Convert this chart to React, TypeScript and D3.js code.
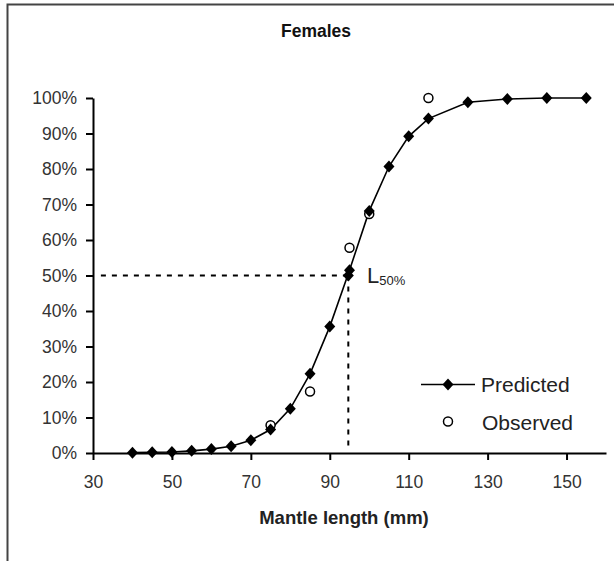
import React, { useEffect, useRef } from "react";
import * as d3 from "d3";

// mantle length classes (mm) and predicted maturity (%)
const lengths = [40, 45, 50, 55, 60, 65, 70, 75, 80, 85, 90, 95, 100, 105, 110, 115, 125, 135, 145, 155];
const predicted = [0.1, 0.2, 0.3, 0.6, 1.1, 1.9, 3.6, 6.6, 12.5, 22.3, 35.6, 51.5, 68.2, 80.7, 89.2, 94.2, 98.8, 99.7, 100, 100];

// observed proportions that are not hidden under predicted markers
const obsLengths = [75, 85, 95, 100, 115];
const observed = [7.8, 17.3, 57.8, 67.3, 100];

const l50 = 94.7;
const xTicks = [30, 50, 70, 90, 110, 130, 150];
const yTicks = [0, 10, 20, 30, 40, 50, 60, 70, 80, 90, 100];

const FONT = "Arial, 'Liberation Sans', sans-serif";
const diamond = "M0,-6L5.5,0L0,6L-5.5,0Z";

const App = () => {
  const ref = useRef<SVGSVGElement>(null);

  useEffect(() => {
    const width = 614;
    const height = 561;
    const svg = d3.select(ref.current);
    svg.selectAll("*").remove();
    svg.attr("width", width).attr("height", height).attr("viewBox", [0, 0, width, height]);

    const x = d3.scaleLinear([30, 160], [93, 606]);
    const y = d3.scaleLinear([0, 100], [453, 98]);

    // chart area border (runs off the right and bottom)
    svg
      .append("rect")
      .attr("x", 7.5)
      .attr("y", 4.5)
      .attr("width", 640)
      .attr("height", 600)
      .attr("fill", "#fff")
      .attr("stroke", "#444")
      .attr("stroke-width", 2);

    svg
      .append("text")
      .attr("x", 316)
      .attr("y", 37)
      .attr("text-anchor", "middle")
      .attr("font-family", FONT)
      .attr("font-size", 17.5)
      .attr("font-weight", "bold")
      .attr("fill", "#111")
      .text("Females");

    // y axis
    svg
      .append("g")
      .attr("transform", `translate(${x(30)},0)`)
      .call(
        d3
          .axisLeft(y)
          .tickValues(yTicks)
          .tickSize(7)
          .tickSizeOuter(0)
          .tickPadding(9)
          .tickFormat((d) => `${d}%`)
      )
      .call((g) => g.select(".domain").attr("stroke-width", 2))
      .call((g) => g.selectAll(".tick line").attr("stroke-width", 2))
      .call((g) =>
        g.selectAll(".tick text").attr("font-family", FONT).attr("font-size", 17.5).attr("fill", "#333")
      );

    // x axis
    svg
      .append("g")
      .attr("transform", `translate(0,${y(0)})`)
      .call(d3.axisBottom(x).tickValues(xTicks).tickSize(7).tickSizeOuter(0).tickPadding(16))
      .call((g) => g.select(".domain").attr("stroke-width", 2))
      .call((g) => g.selectAll(".tick line").attr("stroke-width", 2))
      .call((g) =>
        g.selectAll(".tick text").attr("font-family", FONT).attr("font-size", 17.5).attr("fill", "#333")
      );

    svg
      .append("text")
      .attr("x", 344)
      .attr("y", 524)
      .attr("text-anchor", "middle")
      .attr("font-family", FONT)
      .attr("font-size", 18.5)
      .attr("font-weight", "bold")
      .attr("fill", "#222")
      .text("Mantle length (mm)");

    // L50 guide lines
    svg
      .append("path")
      .attr("d", `M${x(32)},${y(50)}H${x(l50)}`)
      .attr("stroke", "#000")
      .attr("stroke-width", 2)
      .attr("stroke-dasharray", "5,6")
      .attr("fill", "none");
    svg
      .append("path")
      .attr("d", `M${x(l50)},${y(50)}V${y(2)}`)
      .attr("stroke", "#000")
      .attr("stroke-width", 2)
      .attr("stroke-dasharray", "5,6")
      .attr("fill", "none");

    const I = d3.range(lengths.length);
    const line = d3
      .line<number>()
      .x((i) => x(lengths[i]))
      .y((i) => y(predicted[i]));

    svg
      .append("path")
      .attr("d", line(I))
      .attr("fill", "none")
      .attr("stroke", "#000")
      .attr("stroke-width", 1.6);

    svg
      .append("g")
      .selectAll("circle")
      .data(d3.range(obsLengths.length))
      .join("circle")
      .attr("cx", (i) => x(obsLengths[i]))
      .attr("cy", (i) => y(observed[i]))
      .attr("r", 4.5)
      .attr("fill", "#fff")
      .attr("stroke", "#000")
      .attr("stroke-width", 1.5);

    svg
      .append("g")
      .selectAll("path")
      .data(I)
      .join("path")
      .attr("transform", (i) => `translate(${x(lengths[i])},${y(predicted[i])})`)
      .attr("d", diamond)
      .attr("fill", "#000");

    svg
      .append("path")
      .attr("transform", `translate(${x(l50)},${y(50)})`)
      .attr("d", diamond)
      .attr("fill", "#000");

    const lbl = svg
      .append("text")
      .attr("x", 367)
      .attr("y", 283)
      .attr("font-family", FONT)
      .attr("fill", "#222");
    lbl.append("tspan").attr("font-size", 22).text("L");
    lbl.append("tspan").attr("font-size", 13).attr("dy", 2).text("50%");

    // legend
    const lg = svg.append("g").attr("font-family", FONT).attr("font-size", 21).attr("fill", "#222");
    lg.append("path").attr("d", "M421,384.5H475").attr("stroke", "#000").attr("stroke-width", 1.6);
    lg.append("path").attr("transform", "translate(448,384.5)").attr("d", diamond).attr("fill", "#000");
    lg.append("text").attr("x", 481).attr("y", 392).text("Predicted");
    lg.append("circle")
      .attr("cx", 448)
      .attr("cy", 421.5)
      .attr("r", 4.5)
      .attr("fill", "#fff")
      .attr("stroke", "#000")
      .attr("stroke-width", 1.5);
    lg.append("text").attr("x", 482).attr("y", 429.5).text("Observed");
  }, []);

  return <svg ref={ref} style={{ position: "absolute", left: 0, top: 0 }}></svg>;
};

export default App;
